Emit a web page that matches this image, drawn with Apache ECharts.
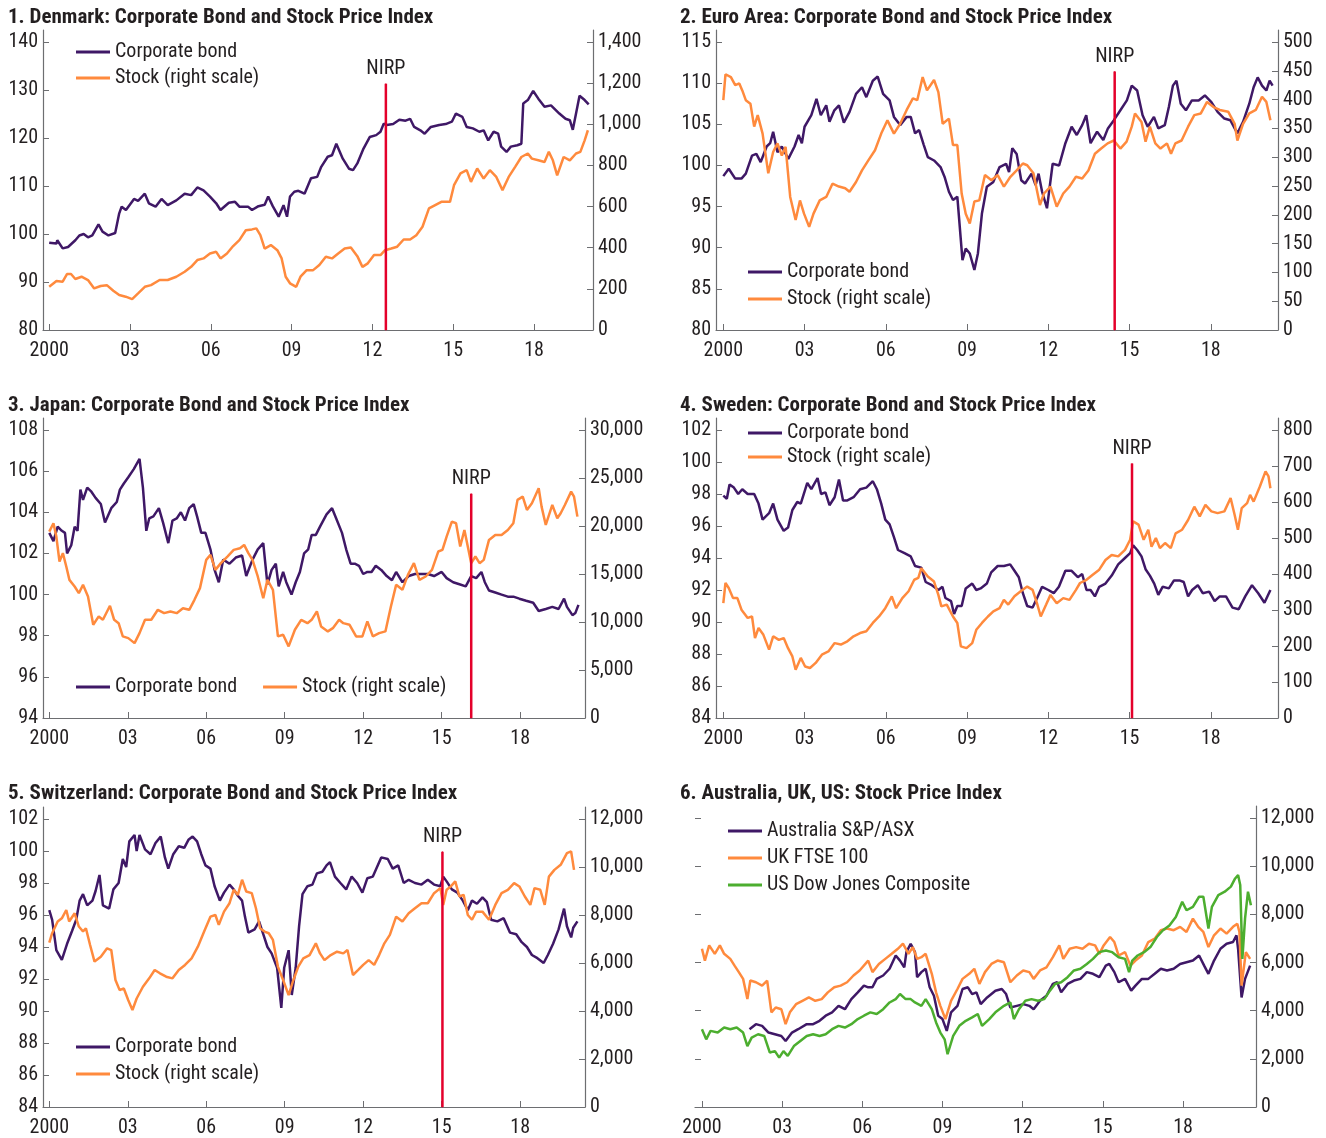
<!DOCTYPE html>
<html>
<head>
<meta charset="utf-8">
<script src="https://cdn.jsdelivr.net/npm/echarts@6/dist/echarts.min.js"></script>
<style>
  html, body { margin: 0; padding: 0; background: #fff; }
  #chart { width: 1326px; height: 1138px; }
</style>
</head>
<body>
<div id="chart"></div>
<script>
// x axis ticks, shared by all panels
const yearTicks = [2000, 2003, 2006, 2009, 2012, 2015, 2018];

const titles = [
  '1. Denmark: Corporate Bond and Stock Price Index',
  '2. Euro Area: Corporate Bond and Stock Price Index',
  '3. Japan: Corporate Bond and Stock Price Index',
  '4. Sweden: Corporate Bond and Stock Price Index',
  '5. Switzerland: Corporate Bond and Stock Price Index',
  '6. Australia, UK, US: Stock Price Index'
];

// tick labels
const dkLeftTicks = [80, 90, 100, 110, 120, 130, 140];
const dkRightTicks = [0, 200, 400, 600, 800, 1000, 1200, 1400];
const euLeftTicks = [80, 85, 90, 95, 100, 105, 110, 115];
const euRightTicks = [0, 50, 100, 150, 200, 250, 300, 350, 400, 450, 500];
const jpLeftTicks = [94, 96, 98, 100, 102, 104, 106, 108];
const jpRightTicks = [0, 5000, 10000, 15000, 20000, 25000, 30000];
const seLeftTicks = [84, 86, 88, 90, 92, 94, 96, 98, 100, 102];
const seRightTicks = [0, 100, 200, 300, 400, 500, 600, 700, 800];
const chLeftTicks = [84, 86, 88, 90, 92, 94, 96, 98, 100, 102];
const chRightTicks = [0, 2000, 4000, 6000, 8000, 10000, 12000];
const stockTicks = [0, 2000, 4000, 6000, 8000, 10000, 12000];

// NIRP introduction: [date, top of marker line]
const dkNirp = [2012.5, 131.3];
const euNirp = [2014.45, 111.4];
const jpNirp = [2016.13, 104.9];
const seNirp = [2015.09, 99.9];
const chNirp = [2015.03, 99.95];

// Denmark
const dkBond = [[2000.00,98.2],[2000.27,98.0],[2000.30,98.7],[2000.50,97.0],[2000.70,97.3],[2000.97,98.7],[2001.12,99.7],[2001.28,100.0],[2001.44,99.3],[2001.60,99.7],[2001.83,102.0],[2001.98,100.5],[2002.20,99.7],[2002.45,100.2],[2002.60,104.3],[2002.69,105.7],[2002.85,105.0],[2003.15,107.3],[2003.30,106.9],[2003.55,108.4],[2003.70,106.4],[2003.95,105.7],[2004.17,107.3],[2004.40,106.0],[2004.72,107.0],[2005.03,108.4],[2005.27,108.1],[2005.50,109.7],[2005.73,109.1],[2005.97,107.8],[2006.20,106.4],[2006.36,105.0],[2006.67,106.5],[2006.90,106.7],[2007.06,105.7],[2007.38,105.7],[2007.53,105.0],[2007.77,105.8],[2008.00,106.1],[2008.13,107.8],[2008.30,105.8],[2008.52,103.6],[2008.70,106.0],[2008.83,103.6],[2008.94,107.8],[2009.10,108.8],[2009.25,109.0],[2009.48,108.4],[2009.72,111.6],[2009.95,111.9],[2010.10,114.0],[2010.34,116.1],[2010.50,116.4],[2010.66,118.8],[2010.90,115.7],[2011.13,113.6],[2011.28,113.3],[2011.44,114.7],[2011.67,117.8],[2011.90,120.2],[2012.14,120.6],[2012.30,121.3],[2012.42,123.0],[2012.53,122.7],[2012.77,122.9],[2013.00,123.8],[2013.23,123.6],[2013.40,124.0],[2013.55,122.3],[2013.78,121.6],[2013.94,120.9],[2014.17,122.3],[2014.48,122.7],[2014.72,122.9],[2014.95,123.4],[2015.10,125.1],[2015.34,124.4],[2015.50,122.3],[2015.73,122.0],[2015.97,121.3],[2016.13,121.6],[2016.30,119.5],[2016.50,121.3],[2016.67,120.9],[2016.78,118.2],[2016.98,117.1],[2017.14,118.2],[2017.38,118.5],[2017.53,118.8],[2017.60,127.2],[2017.77,127.9],[2017.97,129.8],[2018.16,128.2],[2018.39,126.5],[2018.63,126.8],[2018.94,125.1],[2019.17,124.0],[2019.33,123.7],[2019.44,121.7],[2019.56,125.1],[2019.69,128.8],[2019.88,127.9],[2020.03,127.0]];
const dkStock = [[2000.00,210],[2000.27,238],[2000.50,235],[2000.66,272],[2000.81,272],[2000.97,248],[2001.20,259],[2001.44,243],[2001.67,202],[2001.91,214],[2002.14,218],[2002.38,191],[2002.60,170],[2002.84,162],[2003.08,150],[2003.30,178],[2003.55,210],[2003.78,218],[2004.10,243],[2004.40,243],[2004.72,259],[2005.03,283],[2005.27,307],[2005.50,340],[2005.73,348],[2005.97,372],[2006.20,380],[2006.36,348],[2006.60,372],[2006.83,408],[2007.06,437],[2007.30,485],[2007.53,489],[2007.69,494],[2007.84,461],[2008.00,396],[2008.23,413],[2008.47,388],[2008.63,348],[2008.78,259],[2008.94,227],[2009.17,210],[2009.33,259],[2009.56,291],[2009.80,291],[2010.03,316],[2010.27,356],[2010.50,348],[2010.73,372],[2010.97,396],[2011.20,401],[2011.44,359],[2011.63,307],[2011.83,324],[2012.06,364],[2012.30,364],[2012.47,388],[2012.70,396],[2012.92,405],[2013.16,440],[2013.40,440],[2013.63,461],[2013.86,502],[2014.10,591],[2014.33,607],[2014.56,623],[2014.88,623],[2015.03,704],[2015.27,761],[2015.50,777],[2015.66,720],[2015.89,785],[2016.13,736],[2016.36,777],[2016.60,744],[2016.83,680],[2017.06,744],[2017.30,793],[2017.53,841],[2017.77,858],[2017.92,833],[2018.16,825],[2018.39,817],[2018.55,866],[2018.70,825],[2018.86,752],[2019.10,841],[2019.33,825],[2019.56,858],[2019.72,866],[2019.88,922],[2020.00,971]];

// Euro area
const euBond = [[2000.00,98.7],[2000.20,99.6],[2000.44,98.4],[2000.67,98.4],[2000.83,99.0],[2001.06,101.2],[2001.22,101.4],[2001.38,100.4],[2001.60,102.3],[2001.73,102.7],[2001.84,104.1],[2002.00,101.6],[2002.16,102.3],[2002.40,100.8],[2002.63,102.3],[2002.78,103.7],[2002.90,102.7],[2003.00,104.7],[2003.25,106.1],[2003.44,108.1],[2003.60,106.1],[2003.80,107.3],[2003.92,105.3],[2004.10,106.7],[2004.27,107.3],[2004.45,105.2],[2004.66,106.5],[2004.90,108.7],[2005.12,109.5],[2005.28,108.3],[2005.52,110.3],[2005.70,110.8],[2005.90,108.7],[2006.14,107.9],[2006.30,105.9],[2006.53,104.9],[2006.77,105.9],[2006.92,105.9],[2007.08,103.9],[2007.23,104.3],[2007.40,102.5],[2007.55,101.0],[2007.78,100.6],[2008.02,99.8],[2008.17,98.6],[2008.33,96.8],[2008.48,95.8],[2008.64,96.2],[2008.83,88.5],[2008.95,89.9],[2009.10,89.3],[2009.27,87.3],[2009.40,89.3],[2009.55,94.2],[2009.73,97.4],[2009.97,98.0],[2010.20,99.8],[2010.44,100.2],[2010.55,99.2],[2010.67,102.1],[2010.83,101.4],[2011.00,98.2],[2011.14,97.8],[2011.38,99.0],[2011.53,97.6],[2011.64,99.0],[2011.77,96.8],[2011.95,94.8],[2012.16,100.2],[2012.40,100.0],[2012.63,102.7],[2012.86,104.7],[2013.05,103.7],[2013.25,104.9],[2013.40,106.1],[2013.56,102.7],[2013.80,104.1],[2014.03,103.1],[2014.20,104.5],[2014.42,105.5],[2014.66,106.7],[2014.90,107.9],[2015.08,109.7],[2015.28,109.1],[2015.48,106.1],[2015.67,104.7],[2015.90,105.9],[2016.06,104.5],[2016.30,104.9],[2016.45,107.1],[2016.60,109.7],[2016.73,110.3],[2016.89,107.5],[2017.08,106.7],[2017.30,107.9],[2017.55,107.9],[2017.78,108.5],[2018.02,107.7],[2018.25,106.5],[2018.50,105.7],[2018.72,105.5],[2018.98,103.9],[2019.19,105.3],[2019.42,107.5],[2019.58,109.5],[2019.73,110.7],[2019.89,109.7],[2020.05,109.1],[2020.17,110.3],[2020.28,109.7]];
const euStock = [[2000.00,399],[2000.08,444],[2000.28,439],[2000.44,425],[2000.59,428],[2000.70,416],[2000.83,399],[2001.00,393],[2001.14,353],[2001.27,373],[2001.45,341],[2001.66,272],[2001.84,309],[2002.00,324],[2002.16,303],[2002.30,318],[2002.47,231],[2002.67,191],[2002.83,225],[2002.98,202],[2003.17,179],[2003.33,202],[2003.56,225],[2003.80,231],[2004.03,254],[2004.27,249],[2004.50,246],[2004.66,240],[2004.90,257],[2005.12,277],[2005.36,295],[2005.60,312],[2005.83,341],[2006.06,364],[2006.30,341],[2006.53,358],[2006.77,382],[2007.00,402],[2007.16,399],[2007.36,439],[2007.52,416],[2007.78,434],[2007.94,413],[2008.10,358],[2008.33,367],[2008.48,321],[2008.64,321],[2008.80,237],[2008.95,202],[2009.10,185],[2009.27,223],[2009.45,225],[2009.66,269],[2009.90,260],[2010.13,269],[2010.36,249],[2010.60,266],[2010.83,277],[2011.06,289],[2011.22,286],[2011.45,272],[2011.69,217],[2011.84,237],[2012.08,249],[2012.31,214],[2012.55,237],[2012.78,249],[2013.02,266],[2013.25,263],[2013.48,277],[2013.72,306],[2013.95,315],[2014.19,324],[2014.42,329],[2014.66,315],[2014.89,327],[2015.08,353],[2015.20,376],[2015.44,361],[2015.59,327],[2015.75,353],[2015.95,324],[2016.14,315],[2016.38,324],[2016.53,306],[2016.69,324],[2016.92,329],[2017.16,353],[2017.39,373],[2017.63,376],[2017.86,396],[2018.10,387],[2018.33,382],[2018.64,379],[2018.88,358],[2018.98,329],[2019.19,358],[2019.42,376],[2019.66,382],[2019.89,405],[2020.05,396],[2020.20,364]];

// Japan
const jpBond = [[2000.00,103.0],[2000.16,102.6],[2000.32,103.3],[2000.48,103.1],[2000.60,103.0],[2000.68,102.0],[2000.84,102.4],[2000.97,103.3],[2001.08,103.1],[2001.19,105.1],[2001.29,104.6],[2001.45,105.2],[2001.61,105.0],[2001.77,104.7],[2001.97,104.4],[2002.13,103.5],[2002.37,104.2],[2002.58,104.5],[2002.70,105.1],[2002.85,105.4],[2003.02,105.7],[2003.23,106.1],[2003.45,106.6],[2003.58,105.2],[2003.71,103.1],[2003.82,103.7],[2003.98,103.8],[2004.19,104.2],[2004.35,103.5],[2004.55,102.5],[2004.71,103.6],[2004.87,103.7],[2005.03,104.0],[2005.19,103.6],[2005.35,104.2],[2005.52,104.4],[2005.65,103.8],[2005.81,103.0],[2005.97,103.0],[2006.16,102.2],[2006.32,101.2],[2006.48,100.6],[2006.65,101.7],[2006.89,101.5],[2007.13,101.8],[2007.37,101.9],[2007.53,100.9],[2007.77,101.7],[2007.97,102.2],[2008.18,102.5],[2008.34,100.5],[2008.50,101.2],[2008.66,101.5],[2008.77,100.4],[2008.94,101.1],[2009.06,100.6],[2009.26,100.0],[2009.42,100.6],[2009.58,101.1],[2009.74,102.0],[2009.90,102.2],[2010.03,102.9],[2010.19,102.9],[2010.35,103.3],[2010.60,103.9],[2010.81,104.2],[2011.00,103.6],[2011.19,103.0],[2011.35,102.2],[2011.52,101.5],[2011.68,101.5],[2011.84,101.4],[2012.00,101.0],[2012.16,101.1],[2012.32,101.1],[2012.48,101.4],[2012.69,101.2],[2012.90,100.9],[2013.10,100.7],[2013.26,101.1],[2013.50,100.6],[2013.74,100.9],[2013.98,101.0],[2014.23,101.0],[2014.47,101.0],[2014.71,100.9],[2015.00,101.1],[2015.19,100.8],[2015.44,100.6],[2015.68,100.5],[2015.92,100.4],[2016.13,100.9],[2016.32,100.8],[2016.52,101.1],[2016.65,100.6],[2016.81,100.2],[2017.05,100.1],[2017.29,100.0],[2017.53,99.9],[2017.74,99.9],[2017.97,99.8],[2018.23,99.7],[2018.50,99.6],[2018.71,99.2],[2018.98,99.3],[2019.23,99.4],[2019.47,99.3],[2019.68,99.8],[2019.79,99.4],[2020.00,99.0],[2020.11,99.1],[2020.23,99.5]];
const jpStock = [[2000.00,19420],[2000.16,20290],[2000.27,18900],[2000.39,16300],[2000.52,17170],[2000.65,15780],[2000.77,14390],[2000.97,13700],[2001.13,13000],[2001.29,13870],[2001.48,12660],[2001.68,9710],[2001.89,10580],[2002.05,10230],[2002.32,11690],[2002.48,10230],[2002.65,9880],[2002.81,8500],[2003.02,8320],[2003.26,7800],[2003.45,8840],[2003.66,10230],[2003.90,10230],[2004.15,11270],[2004.39,10920],[2004.63,11100],[2004.87,10920],[2005.11,11440],[2005.35,11270],[2005.55,12310],[2005.76,13530],[2006.00,16470],[2006.16,16990],[2006.35,15430],[2006.56,16130],[2006.81,16820],[2007.05,17510],[2007.29,17690],[2007.45,18030],[2007.61,17170],[2007.77,16470],[2007.97,14740],[2008.18,12480],[2008.34,14390],[2008.55,13350],[2008.74,8500],[2008.94,8670],[2009.15,7460],[2009.39,9190],[2009.63,10230],[2009.87,9880],[2010.03,10230],[2010.23,11100],[2010.39,9540],[2010.65,9020],[2010.84,9360],[2011.08,10230],[2011.24,9880],[2011.48,9710],[2011.73,8500],[2011.97,8500],[2012.16,10060],[2012.37,8500],[2012.61,8840],[2012.85,9020],[2013.06,11620],[2013.26,13870],[2013.50,13350],[2013.71,14910],[2013.94,16130],[2014.15,14390],[2014.39,14740],[2014.63,15430],[2014.87,17340],[2015.03,17510],[2015.19,18900],[2015.39,20460],[2015.55,20290],[2015.71,17860],[2015.87,19590],[2016.13,16130],[2016.29,16820],[2016.45,16130],[2016.61,16470],[2016.81,18550],[2017.05,19070],[2017.29,19070],[2017.53,19590],[2017.74,20290],[2017.90,22720],[2018.10,23060],[2018.26,21670],[2018.45,22370],[2018.71,23930],[2018.82,22020],[2018.98,20110],[2019.23,22190],[2019.42,20810],[2019.55,21330],[2019.71,22190],[2019.95,23580],[2020.06,23060],[2020.19,20980]];

// Sweden
const seBond = [[2000.00,97.9],[2000.13,97.7],[2000.23,98.6],[2000.39,98.4],[2000.55,98.0],[2000.70,98.3],[2000.90,98.0],[2001.14,98.0],[2001.30,97.4],[2001.45,96.4],[2001.69,96.8],[2001.84,97.4],[2002.00,96.4],[2002.23,95.7],[2002.39,95.9],[2002.55,97.0],[2002.73,97.5],[2002.86,97.4],[2003.10,98.7],[2003.25,98.3],[2003.48,99.0],[2003.61,98.0],[2003.77,98.1],[2003.92,97.3],[2004.11,97.8],[2004.27,98.9],[2004.42,97.6],[2004.58,97.6],[2004.81,97.8],[2005.05,98.3],[2005.28,98.4],[2005.52,98.8],[2005.67,98.3],[2005.83,97.4],[2005.98,96.4],[2006.14,96.1],[2006.30,95.3],[2006.45,94.5],[2006.69,94.3],[2006.92,94.1],[2007.08,93.5],[2007.31,93.4],[2007.47,92.5],[2007.70,92.3],[2007.94,92.0],[2008.09,92.2],[2008.20,91.5],[2008.41,91.3],[2008.52,90.5],[2008.64,91.0],[2008.80,91.0],[2008.95,92.1],[2009.19,92.4],[2009.34,92.0],[2009.50,92.1],[2009.73,92.4],[2009.89,93.1],[2010.13,93.5],[2010.36,93.5],[2010.59,93.6],[2010.75,93.2],[2010.91,92.8],[2011.06,91.8],[2011.22,91.0],[2011.42,90.9],[2011.61,91.6],[2011.77,92.2],[2012.00,92.0],[2012.20,91.8],[2012.39,92.2],[2012.63,93.2],[2012.86,93.2],[2013.09,92.8],[2013.25,93.0],[2013.41,92.0],[2013.56,92.0],[2013.72,91.6],[2013.88,92.2],[2014.11,92.4],[2014.34,92.9],[2014.58,93.6],[2014.83,94.0],[2015.02,94.3],[2015.13,94.8],[2015.28,94.5],[2015.44,94.1],[2015.59,93.3],[2015.75,92.9],[2015.91,92.4],[2016.06,91.7],[2016.22,92.2],[2016.45,92.1],[2016.64,92.6],[2016.84,92.6],[2017.00,92.5],[2017.16,91.6],[2017.31,92.0],[2017.52,92.3],[2017.70,91.8],[2017.94,91.9],[2018.14,91.3],[2018.33,91.6],[2018.56,91.6],[2018.80,90.9],[2019.03,90.8],[2019.27,91.6],[2019.52,92.3],[2019.75,91.8],[2019.98,91.2],[2020.20,92.0]];
const seStock = [[2000.00,319],[2000.08,375],[2000.20,361],[2000.36,333],[2000.52,333],[2000.67,301],[2000.90,278],[2001.06,282],[2001.17,222],[2001.30,250],[2001.48,231],[2001.69,190],[2001.84,227],[2002.05,217],[2002.23,222],[2002.39,194],[2002.55,171],[2002.67,134],[2002.86,167],[2003.02,143],[2003.20,139],[2003.41,153],[2003.64,176],[2003.88,185],[2004.11,208],[2004.34,204],[2004.58,213],[2004.81,227],[2005.05,236],[2005.28,241],[2005.52,264],[2005.75,282],[2005.98,305],[2006.22,338],[2006.38,305],[2006.61,333],[2006.84,352],[2007.05,384],[2007.20,389],[2007.31,416],[2007.55,393],[2007.78,379],[2007.94,342],[2008.05,310],[2008.25,315],[2008.48,282],[2008.64,264],[2008.77,199],[2008.98,194],[2009.19,208],[2009.34,245],[2009.55,264],[2009.77,282],[2009.97,296],[2010.20,305],[2010.36,328],[2010.52,315],[2010.75,338],[2010.98,352],[2011.22,365],[2011.42,356],[2011.58,319],[2011.72,282],[2011.92,315],[2012.08,342],[2012.31,319],[2012.55,333],[2012.78,328],[2013.02,356],[2013.17,375],[2013.41,384],[2013.64,398],[2013.88,412],[2014.11,439],[2014.34,453],[2014.58,449],[2014.83,467],[2015.02,495],[2015.13,546],[2015.33,537],[2015.52,495],[2015.69,523],[2015.81,476],[2015.97,500],[2016.12,472],[2016.31,486],[2016.52,472],[2016.70,513],[2016.94,523],[2017.16,550],[2017.39,587],[2017.59,560],[2017.80,592],[2018.02,574],[2018.25,569],[2018.50,574],[2018.73,611],[2018.88,564],[2019.00,523],[2019.14,583],[2019.34,597],[2019.45,620],[2019.58,601],[2019.81,643],[2020.02,685],[2020.13,671],[2020.20,638]];

// Switzerland
const chBond = [[2000.00,96.3],[2000.11,95.7],[2000.27,93.8],[2000.48,93.2],[2000.68,94.2],[2000.87,95.0],[2001.03,95.7],[2001.16,96.9],[2001.29,97.3],[2001.45,96.6],[2001.65,96.9],[2001.77,97.5],[2001.92,98.5],[2002.05,96.6],[2002.29,96.4],[2002.45,97.6],[2002.65,98.0],[2002.81,99.5],[2002.94,99.0],[2003.06,100.6],[2003.26,101.0],[2003.34,100.0],[2003.45,101.0],[2003.66,100.1],[2003.87,99.8],[2004.06,100.5],[2004.26,100.9],[2004.42,99.6],[2004.55,98.9],[2004.74,99.8],[2004.95,100.3],[2005.16,100.2],[2005.32,100.7],[2005.48,100.9],[2005.65,100.6],[2005.81,99.8],[2005.97,99.1],[2006.16,98.9],[2006.32,97.8],[2006.52,96.9],[2006.68,97.4],[2006.89,97.9],[2007.05,97.6],[2007.21,97.2],[2007.37,96.9],[2007.48,95.9],[2007.61,94.9],[2007.85,95.1],[2008.02,95.6],[2008.18,94.8],[2008.34,94.0],[2008.50,93.6],[2008.71,92.7],[2008.87,90.2],[2008.98,92.7],[2009.15,93.8],[2009.27,91.0],[2009.42,92.7],[2009.55,95.3],[2009.68,97.3],[2009.87,97.8],[2010.06,97.9],[2010.23,98.6],[2010.44,98.7],[2010.60,99.1],[2010.73,99.3],[2010.92,98.4],[2011.13,98.0],[2011.35,97.6],[2011.56,98.4],[2011.77,98.0],[2011.97,97.4],[2012.16,98.3],[2012.37,98.4],[2012.53,99.0],[2012.69,99.6],[2012.94,99.5],[2013.13,98.9],[2013.34,99.1],[2013.55,98.0],[2013.74,98.2],[2013.98,98.0],[2014.23,97.9],[2014.47,98.2],[2014.71,97.9],[2014.95,97.8],[2015.06,98.4],[2015.19,98.1],[2015.39,97.6],[2015.60,97.4],[2015.81,96.9],[2016.00,96.3],[2016.16,96.9],[2016.35,96.7],[2016.56,97.1],[2016.73,96.8],[2016.89,95.7],[2017.13,95.6],[2017.37,95.8],[2017.61,94.9],[2017.85,94.8],[2018.06,94.3],[2018.26,94.0],[2018.45,93.5],[2018.66,93.3],[2018.90,93.0],[2019.06,93.5],[2019.26,94.2],[2019.47,95.1],[2019.68,96.4],[2019.79,95.3],[2019.95,94.6],[2020.03,95.2],[2020.19,95.6]];
const chStock = [[2000.00,6850],[2000.11,7240],[2000.32,7730],[2000.48,7860],[2000.65,8210],[2000.76,7730],[2000.97,8070],[2001.13,7520],[2001.29,7310],[2001.40,7450],[2001.56,6750],[2001.73,6060],[2001.97,6260],[2002.21,6610],[2002.37,6540],[2002.53,5290],[2002.69,4870],[2002.85,4940],[2003.02,4450],[2003.18,4040],[2003.34,4520],[2003.58,5010],[2003.82,5360],[2004.03,5710],[2004.23,5570],[2004.47,5430],[2004.71,5360],[2004.95,5710],[2005.19,5920],[2005.44,6190],[2005.68,6680],[2005.92,7310],[2006.16,7930],[2006.35,8000],[2006.48,7590],[2006.68,8140],[2006.89,8490],[2007.05,9050],[2007.21,8840],[2007.37,9470],[2007.53,8980],[2007.74,8910],[2007.90,8280],[2008.06,7450],[2008.23,7310],[2008.39,7240],[2008.55,6960],[2008.74,5850],[2008.94,5290],[2009.15,4660],[2009.31,5220],[2009.52,5850],[2009.71,6190],[2009.95,6330],[2010.19,6820],[2010.35,6400],[2010.52,6120],[2010.76,6330],[2011.00,6470],[2011.24,6400],[2011.40,6540],[2011.61,5500],[2011.81,5710],[2012.00,5920],[2012.21,6120],[2012.42,5920],[2012.61,6330],[2012.81,6820],[2013.02,7170],[2013.26,7930],[2013.50,7730],[2013.74,8070],[2013.98,8280],[2014.23,8490],[2014.47,8490],[2014.71,8910],[2014.95,9120],[2015.06,8420],[2015.19,9050],[2015.35,9190],[2015.52,9400],[2015.68,8770],[2015.84,8840],[2016.00,8000],[2016.16,7800],[2016.32,8140],[2016.56,8140],[2016.81,7800],[2017.05,8420],[2017.29,8910],[2017.53,9050],[2017.77,9330],[2017.97,9190],[2018.18,8770],[2018.39,8420],[2018.55,9120],[2018.77,9050],[2018.94,8420],[2019.10,9600],[2019.31,9880],[2019.55,10090],[2019.79,10580],[2019.95,10650],[2020.06,9880]];

// Australia, UK, US
const auStock = [[2001.78,3230],[2002.02,3440],[2002.25,3370],[2002.49,3090],[2002.73,3020],[2002.97,2950],[2003.13,2740],[2003.37,3090],[2003.60,3230],[2003.92,3440],[2004.16,3440],[2004.40,3580],[2004.63,3790],[2004.87,3930],[2005.11,4200],[2005.35,4060],[2005.59,4480],[2005.83,4760],[2006.06,5040],[2006.22,4970],[2006.38,4970],[2006.54,5320],[2006.78,5460],[2007.02,5740],[2007.25,6290],[2007.41,6080],[2007.57,5800],[2007.65,6430],[2007.81,6780],[2007.97,6430],[2008.05,5390],[2008.21,5600],[2008.37,5740],[2008.52,4970],[2008.68,4620],[2008.84,3790],[2009.00,3650],[2009.16,3160],[2009.32,3930],[2009.56,4200],[2009.75,4900],[2009.95,4970],[2010.11,4690],[2010.27,4760],[2010.43,4270],[2010.67,4550],[2010.98,4830],[2011.22,4900],[2011.38,4690],[2011.54,4130],[2011.78,4200],[2012.02,4270],[2012.25,4200],[2012.41,4060],[2012.65,4410],[2012.89,4620],[2013.13,5110],[2013.29,5180],[2013.44,4760],[2013.68,5110],[2013.92,5250],[2014.16,5320],[2014.40,5600],[2014.63,5530],[2014.87,5390],[2015.11,5870],[2015.24,5940],[2015.43,5600],[2015.59,5180],[2015.83,5320],[2016.06,4830],[2016.22,5040],[2016.46,5320],[2016.70,5320],[2016.94,5530],[2017.17,5740],[2017.40,5670],[2017.65,5740],[2017.89,5940],[2018.13,6010],[2018.37,6080],[2018.60,6290],[2018.79,5870],[2018.95,5530],[2019.16,6080],[2019.40,6570],[2019.63,6780],[2019.87,6850],[2020.00,7130],[2020.06,6570],[2020.19,4550],[2020.32,5320],[2020.51,5870]];
const ukStock = [[2000.00,6570],[2000.11,6080],[2000.27,6710],[2000.48,6360],[2000.67,6710],[2000.83,6360],[2001.06,6150],[2001.22,5870],[2001.38,5600],[2001.54,5320],[2001.70,4480],[2001.81,5250],[2002.02,5180],[2002.25,5040],[2002.44,5250],[2002.60,3930],[2002.76,4130],[2002.97,4060],[2003.13,3440],[2003.29,3930],[2003.52,4270],[2003.76,4410],[2004.00,4550],[2004.24,4410],[2004.48,4480],[2004.71,4760],[2004.95,4970],[2005.19,5040],[2005.43,5180],[2005.67,5460],[2005.90,5670],[2006.22,6080],[2006.38,5600],[2006.62,5940],[2006.86,6150],[2007.10,6360],[2007.33,6570],[2007.52,6780],[2007.73,6360],[2007.89,6640],[2008.05,6150],[2008.21,6220],[2008.37,6360],[2008.60,5530],[2008.76,4760],[2008.92,4200],[2009.11,3650],[2009.32,4410],[2009.56,4900],[2009.75,5320],[2010.00,5530],[2010.19,5740],[2010.38,5110],[2010.59,5600],[2010.83,5940],[2011.06,6080],[2011.30,6010],[2011.54,5180],[2011.78,5460],[2012.02,5670],[2012.25,5600],[2012.41,5320],[2012.65,5670],[2012.89,5800],[2013.13,6220],[2013.37,6710],[2013.52,6150],[2013.76,6570],[2014.00,6640],[2014.24,6570],[2014.48,6780],[2014.71,6710],[2014.87,6360],[2015.03,6710],[2015.27,7060],[2015.43,6850],[2015.59,6290],[2015.83,6430],[2016.03,5870],[2016.22,6080],[2016.46,6290],[2016.70,6850],[2016.94,6990],[2017.17,7340],[2017.40,7410],[2017.65,7340],[2017.89,7480],[2018.13,7270],[2018.37,7820],[2018.57,7480],[2018.76,7270],[2018.95,6640],[2019.16,7130],[2019.40,7410],[2019.63,7200],[2019.87,7480],[2020.03,7610],[2020.11,7270],[2020.19,5040],[2020.35,6430],[2020.51,6150]];
const usStock = [[2000.00,3230],[2000.16,2810],[2000.32,3160],[2000.59,3090],[2000.83,3300],[2001.06,3230],[2001.30,3300],[2001.54,3090],[2001.70,2530],[2001.86,2880],[2002.10,3020],[2002.33,2950],[2002.54,2260],[2002.73,2320],[2002.89,2050],[2003.05,2320],[2003.21,2120],[2003.44,2530],[2003.68,2740],[2003.92,2950],[2004.16,3020],[2004.40,2950],[2004.63,3020],[2004.87,3230],[2005.11,3370],[2005.35,3300],[2005.59,3440],[2005.83,3650],[2006.06,3790],[2006.30,3930],[2006.54,3860],[2006.78,4060],[2007.02,4340],[2007.25,4480],[2007.41,4690],[2007.62,4480],[2007.81,4480],[2007.97,4340],[2008.21,4200],[2008.37,4480],[2008.60,4060],[2008.76,3510],[2008.92,3090],[2009.08,2810],[2009.19,2190],[2009.40,2950],[2009.63,3370],[2009.87,3580],[2010.11,3720],[2010.32,3860],[2010.48,3370],[2010.75,3650],[2010.98,3930],[2011.30,4200],[2011.54,4340],[2011.67,3650],[2011.86,4060],[2012.10,4410],[2012.33,4480],[2012.57,4410],[2012.81,4480],[2013.02,4830],[2013.21,5110],[2013.44,5180],[2013.68,5390],[2013.92,5670],[2014.16,5740],[2014.40,5940],[2014.63,6150],[2014.87,6430],[2015.11,6500],[2015.35,6430],[2015.59,6220],[2015.83,6150],[2015.98,5600],[2016.10,6080],[2016.30,6290],[2016.54,6430],[2016.78,6640],[2017.02,7060],[2017.25,7340],[2017.49,7540],[2017.73,7890],[2017.97,8520],[2018.13,8170],[2018.37,8310],[2018.60,8730],[2018.76,8730],[2018.95,7410],[2019.08,8310],[2019.32,8800],[2019.56,8940],[2019.79,9150],[2019.95,9490],[2020.06,9630],[2020.14,9220],[2020.22,6150],[2020.32,7820],[2020.43,8940],[2020.54,8380]];

const FONT = '"Roboto Condensed", "Open Sans Condensed", sans-serif';
const INK = '#231f20';
const AXIS = '#6d6e71';
const PURPLE = '#3f1866';
const ORANGE = '#ff8a3d';
const GREEN = '#4cae2f';
const RED = '#e4002b';

const panels = [
  { title: titles[0], titleX: 8, titleY: 7, left: 43, right: 593, tickTop: 42, bottom: 330, xr: [1999.77, 2020.19],
    lt: dkLeftTicks, rt: dkRightTicks, nirp: dkNirp,
    lines: [{ name: 'Corporate bond', data: dkBond, color: PURPLE }, { name: 'Stock (right scale)', data: dkStock, color: ORANGE, right: true }],
    legend: { left: 76, top: 42, orient: 'vertical', gap: 6 } },
  { title: titles[1], titleX: 680, titleY: 7, left: 716, right: 1278, tickTop: 42, bottom: 330, xr: [1999.73, 2020.48],
    lt: euLeftTicks, rt: euRightTicks, nirp: euNirp,
    lines: [{ name: 'Corporate bond', data: euBond, color: PURPLE }, { name: 'Stock (right scale)', data: euStock, color: ORANGE, right: true }],
    legend: { left: 748, top: 262, orient: 'vertical', gap: 7 } },
  { title: titles[2], titleX: 8, titleY: 395, left: 43, right: 585, tickTop: 430, bottom: 718, xr: [1999.76, 2020.48],
    lt: jpLeftTicks, rt: jpRightTicks, nirp: jpNirp,
    lines: [{ name: 'Corporate bond', data: jpBond, color: PURPLE }, { name: 'Stock (right scale)', data: jpStock, color: ORANGE, right: true }],
    legend: { left: 76, top: 677, orient: 'horizontal', gap: 26 } },
  { title: titles[3], titleX: 680, titleY: 395, left: 716, right: 1278, tickTop: 430, bottom: 718, xr: [1999.73, 2020.48],
    lt: seLeftTicks, rt: seRightTicks, nirp: seNirp,
    lines: [{ name: 'Corporate bond', data: seBond, color: PURPLE }, { name: 'Stock (right scale)', data: seStock, color: ORANGE, right: true }],
    legend: { left: 748, top: 423, orient: 'vertical', gap: 4 } },
  { title: titles[4], titleX: 8, titleY: 783, left: 43, right: 585, tickTop: 819, bottom: 1107, xr: [1999.76, 2020.48],
    lt: chLeftTicks, rt: chRightTicks, nirp: chNirp,
    lines: [{ name: 'Corporate bond', data: chBond, color: PURPLE }, { name: 'Stock (right scale)', data: chStock, color: ORANGE, right: true }],
    legend: { left: 76, top: 1037, orient: 'vertical', gap: 7 } },
  { title: titles[5], titleX: 680, titleY: 783, left: 695, right: 1256, tickTop: 818, bottom: 1107, xr: [1999.74, 2020.73],
    lt: null, rt: stockTicks, nirp: null,
    lines: [{ name: 'Australia S&P/ASX', data: auStock, color: PURPLE, right: true }, { name: 'UK FTSE 100', data: ukStock, color: ORANGE, right: true }, { name: 'US Dow Jones Composite', data: usStock, color: GREEN, right: true }],
    legend: { left: 728, top: 821, orient: 'vertical', gap: 7 } }
];

const PAD = 12; // axis lines run a little above the top tick
const label = { fontFamily: FONT, fontSize: 20, color: INK };

const option = { animation: false, backgroundColor: '#fff', title: [], grid: [], xAxis: [], yAxis: [], legend: [], series: [] };

panels.forEach((p, i) => {
  option.title.push({ text: p.title, left: p.titleX, top: p.titleY, padding: 0,
    textStyle: { fontFamily: FONT, fontSize: 21, fontWeight: 'bold', color: INK } });
  option.grid.push({ left: p.left, top: p.tickTop - PAD, width: p.right - p.left, height: p.bottom - p.tickTop + PAD });

  option.xAxis.push({
    gridIndex: i, type: 'value', min: p.xr[0], max: p.xr[1],
    axisLine: { onZero: false, lineStyle: { color: AXIS, width: 1.2 } },
    axisTick: { inside: true, length: 6, customValues: yearTicks, lineStyle: { color: AXIS } },
    axisLabel: Object.assign({ customValues: yearTicks, margin: 11,
      formatter: v => v === 2000 ? '2000' : String(v - 2000).padStart(2, '0') }, label),
    splitLine: { show: false }
  });

  const mkY = (ticks, pos, showLine, showLabel) => {
    const per = (p.bottom - p.tickTop) / (ticks[ticks.length - 1] - ticks[0]);
    return {
      gridIndex: i, type: 'value', position: pos, min: ticks[0], max: ticks[ticks.length - 1] + PAD / per,
      axisLine: { show: showLine, onZero: false, lineStyle: { color: AXIS, width: 1.2 } },
      axisTick: { show: true, inside: true, length: 6, customValues: ticks, lineStyle: { color: AXIS } },
      axisLabel: Object.assign({ show: showLabel, customValues: ticks, margin: 5,
        formatter: v => v.toLocaleString('en-US') }, label),
      splitLine: { show: false }
    };
  };
  const leftIdx = option.yAxis.length;
  option.yAxis.push(p.lt ? mkY(p.lt, 'left', true, true) : mkY(p.rt, 'left', false, false));
  option.yAxis.push(mkY(p.rt, 'right', true, true));

  p.lines.forEach((s, k) => {
    option.series.push({
      type: 'line', name: s.name, xAxisIndex: i, yAxisIndex: s.right ? leftIdx + 1 : leftIdx,
      data: s.data, symbol: 'none', silent: true, z: 2 + k,
      lineStyle: { color: s.color, width: 2.5 }, itemStyle: { color: s.color }
    });
  });

  if (p.nirp) {
    option.series.push({
      type: 'line', xAxisIndex: i, yAxisIndex: leftIdx, silent: true, z: 10,
      symbol: 'circle', symbolSize: 1, showSymbol: true,
      lineStyle: { color: RED, width: 2.5 }, itemStyle: { color: RED },
      data: [
        { value: [p.nirp[0], p.lt[0]], label: { show: false } },
        { value: [p.nirp[0], p.nirp[1]],
          label: Object.assign({ show: true, position: 'top', distance: 4, formatter: 'NIRP' }, label) }
      ]
    });
  }

  option.legend.push({
    left: p.legend.left, top: p.legend.top, orient: p.legend.orient, itemGap: p.legend.gap, padding: 0,
    data: p.lines.map(s => s.name), selectedMode: false,
    icon: 'rect', itemWidth: 34, itemHeight: 3,
    textStyle: Object.assign({ lineHeight: 20 }, label)
  });
});

const myChart = echarts.init(document.getElementById('chart'));
myChart.setOption(option);
</script>
</body>
</html>
